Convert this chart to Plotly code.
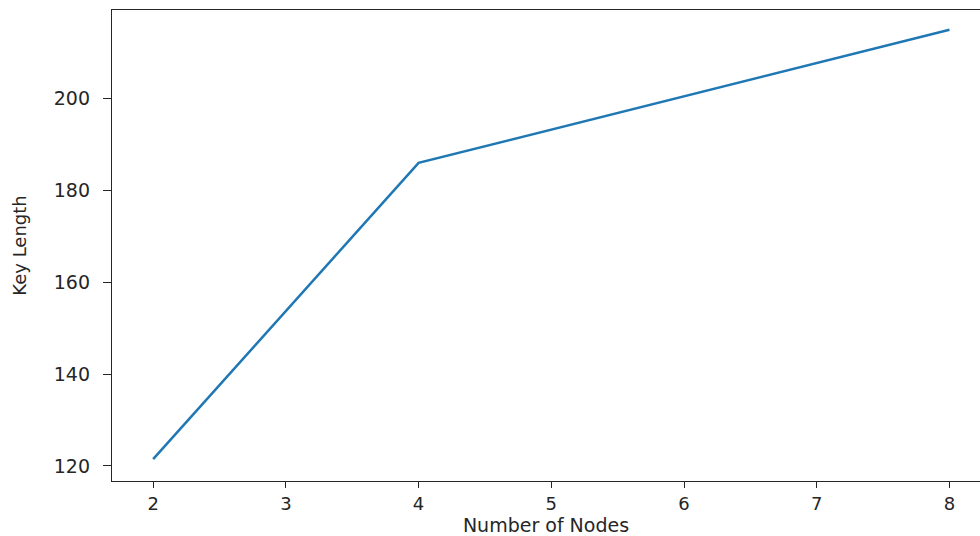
import plotly.graph_objects as go

nodes = [2, 4, 8]
key_length = [121.5, 186, 215]
x_ticks = [2, 3, 4, 5, 6, 7, 8]
y_ticks = [120, 140, 160, 180, 200]

fig = go.Figure()
fig.add_trace(go.Scatter(x=nodes, y=key_length, mode="lines",
                         line=dict(color="#1f77b4", width=2.5)))

fig.update_layout(
    width=980, height=536,
    margin=dict(l=112, r=0, t=10, b=55),
    paper_bgcolor="white", plot_bgcolor="white",
    showlegend=False,
    font=dict(family="DejaVu Sans", color="#262626", size=19),
)
fig.update_xaxes(
    range=[1.69, 8.23], tickvals=x_ticks, ticks="outside", ticklen=6,
    tickwidth=1.2, tickcolor="#262626", showgrid=False, zeroline=False,
    showline=True, linecolor="#262626", linewidth=1.3, mirror=True,
    tickfont=dict(size=18),
    title=dict(text="Number of Nodes", font=dict(size=19), standoff=9),
)
fig.update_yaxes(
    range=[116.73, 219.3], tickvals=y_ticks, ticks="outside", ticklen=8,
    tickwidth=1.2, tickcolor="#262626", showgrid=False, zeroline=False,
    showline=True, linecolor="#262626", linewidth=1.3, mirror=False,
    tickfont=dict(size=19), ticklabelstandoff=9,
    title=dict(text="Key Length", font=dict(size=18), standoff=22),
)
fig.write_html("out.html")
